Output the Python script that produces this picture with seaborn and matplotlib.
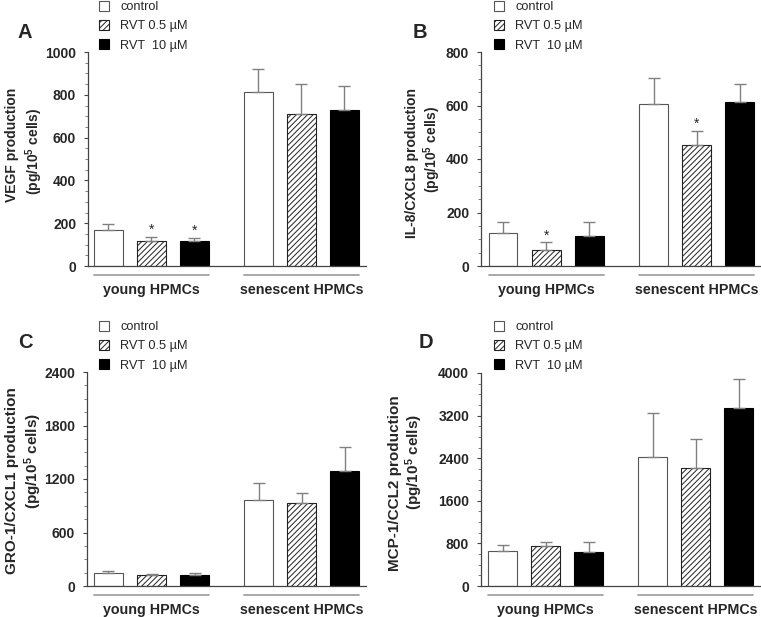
import numpy as np
import pandas as pd
import seaborn as sns
import matplotlib.pyplot as plt
from matplotlib.container import BarContainer
from matplotlib.ticker import MultipleLocator
from matplotlib.transforms import blended_transform_factory

# ======================
# --- Data ---
# ======================
groups = ['young HPMCs', 'senescent HPMCs']
treatments = ['control', 'RVT 0.5 \u00b5M', 'RVT  10 \u00b5M']

# means, order: young (ctrl, 0.5, 10), senescent (ctrl, 0.5, 10)
vegf_mean = [168, 117, 117, 815, 712, 728]
vegf_err = [28, 20, 15, 105, 137, 112]
il8_mean = [122, 61, 112, 604, 452, 614]
il8_err = [44, 27, 53, 100, 54, 68]
gro_mean = [142, 127, 123, 970, 926, 1291]
gro_err = [22, 3, 19, 183, 115, 265]
mcp_mean = [656, 744, 644, 2419, 2225, 3350]
mcp_err = [106, 75, 175, 831, 544, 544]

# significance stars (group index, treatment index)
vegf_stars = [(0, 1), (0, 2)]
il8_stars = [(0, 1), (1, 1)]

sns.set_style('white')
plt.rcParams['font.family'] = ['Liberation Sans', 'DejaVu Sans']
plt.rcParams['mathtext.fontset'] = 'custom'
plt.rcParams['mathtext.bf'] = 'Liberation Sans:bold'
plt.rcParams['mathtext.rm'] = 'Liberation Sans:bold'
plt.rcParams['mathtext.default'] = 'bf'
plt.rcParams['hatch.linewidth'] = 0.7

W, H = 761, 617
fig = plt.figure(figsize=(W / 100, H / 100), dpi=100)


def fx(x):
    return x / W


def fy(y):
    return 1 - y / H


def panel(box, mean, err, stars, ymax, major, minor, xlim, letter, ylab1,
          lab_pos, lab_size, leg_pos, letter_pos):
    l, t, r, b = box
    ax = fig.add_axes([fx(l), fy(b), (r - l) / W, (b - t) / H])
    df = pd.DataFrame({'group': np.repeat(groups, 3),
                       'treatment': treatments * 2,
                       'value': mean, 'err': err})
    sns.barplot(data=df, x='group', y='value', hue='treatment', order=groups,
                hue_order=treatments, palette=['white', 'white', 'black'],
                width=0.86, gap=0.33, errorbar=None, legend=False,
                saturation=1, ax=ax)
    bar_conts = [c for c in ax.containers if isinstance(c, BarContainer)]
    edge = ['#555555', '#222222', 'black']
    for i, cont in enumerate(bar_conts):
        xs, tops, errs = [], [], []
        for bar in cont.patches:
            bar.set_edgecolor(edge[i])
            bar.set_linewidth(0.8)
            if i == 1:
                bar.set_hatch('//////')
            cx = bar.get_x() + bar.get_width() / 2
            g = int(round(cx))
            row = df[(df.group == groups[g]) & (df.treatment == treatments[i])].iloc[0]
            xs.append(cx)
            tops.append(row.value)
            errs.append(row.err)
            if (g, i) in stars:
                ax.annotate('*', (cx, row.value + row.err), xytext=(0, 2),
                            textcoords='offset points', ha='center',
                            va='baseline', fontsize=10)
        ax.errorbar(xs, tops, yerr=[np.zeros(len(errs)), errs], fmt='none',
                    ecolor='#808080', elinewidth=1, capsize=4.5, capthick=1,
                    zorder=1)

    # group underlines
    trans = blended_transform_factory(ax.transData, ax.transAxes)
    for g in range(2):
        bars = [p for p in ax.patches if int(round(p.get_x() + p.get_width() / 2)) == g]
        x0 = min(p.get_x() for p in bars)
        x1 = max(p.get_x() + p.get_width() for p in bars)
        ax.plot([x0, x1], [-9 / (b - t)] * 2, color='#999999', lw=1.2,
                transform=trans, clip_on=False)

    ax.set_xlim(*xlim)
    ax.set_ylim(0, ymax)
    ax.yaxis.set_major_locator(MultipleLocator(major))
    ax.yaxis.set_minor_locator(MultipleLocator(minor))
    ax.tick_params(axis='y', which='major', left=True, length=3, width=0.8,
                   color='#444444', pad=5.5, labelsize=10)
    ax.tick_params(axis='y', which='minor', left=True, length=2, width=0.6,
                   color='#666666')
    ax.tick_params(axis='x', length=0, pad=12, labelsize=10.3)
    for lab in ax.get_yticklabels() + ax.get_xticklabels():
        lab.set_fontweight('bold')
    sns.despine(ax=ax)
    for s in ['left', 'bottom']:
        ax.spines[s].set_color('#444444')
        ax.spines[s].set_linewidth(0.9)
    ax.set_xlabel('')
    ax.set_ylabel('')

    handles = [c.patches[0] for c in bar_conts]
    fig.legend(handles, treatments, loc='upper left',
               bbox_to_anchor=(fx(leg_pos[0]), fy(leg_pos[1])),
               frameon=False, fontsize=9.2, borderpad=0, borderaxespad=0,
               handlelength=0.82, handleheight=0.82, handletextpad=0.85,
               labelspacing=0.52)

    (x1, y1), (x2, y2) = lab_pos
    fig.text(fx(x1), fy(y1), ylab1, rotation=90, ha='center', va='center',
             fontsize=lab_size, fontweight='bold')
    fig.text(fx(x2), fy(y2), '(pg/10$^5$ cells)', rotation=90, ha='center',
             va='center', fontsize=lab_size, fontweight='bold')
    fig.text(fx(letter_pos[0]), fy(letter_pos[1]), letter, ha='center',
             va='center', fontsize=14.5, fontweight='bold')
    return ax


panel((88, 52, 366, 266), vegf_mean, vegf_err, vegf_stars, 1000, 200, 50,
      (-0.423, 1.43), 'A', 'VEGF production', ((12, 145), (34, 151)), 10,
      (99, 1), (25, 33))
panel((481, 52, 760, 266), il8_mean, il8_err, il8_stars, 800, 200, 50,
      (-0.433, 1.42), 'B', 'IL-8/CXCL8 production', ((412, 163), (432, 149)),
      10, (494, 1), (420, 33))
panel((87, 372, 366, 586), gro_mean, gro_err, [], 2400, 600, 150,
      (-0.43, 1.43), 'C', 'GRO-1/CXCL1 production', ((12, 481), (33, 461)),
      11, (99, 321), (25, 343))
panel((481, 373, 760, 586), mcp_mean, mcp_err, [], 4000, 800, 200,
      (-0.43, 1.43), 'D', 'MCP-1/CCL2 production', ((395, 483), (414, 462)),
      11, (494, 321), (426, 343))

plt.savefig('out.png', dpi=100)
